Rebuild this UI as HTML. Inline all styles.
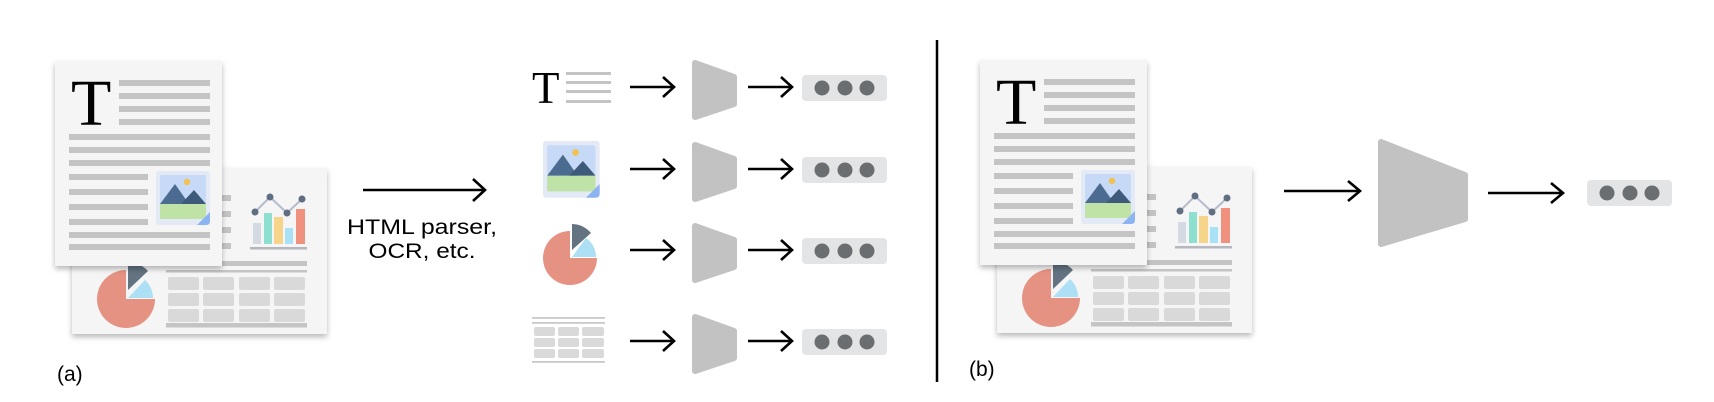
<!DOCTYPE html>
<html><head><meta charset="utf-8"><style>
html,body{margin:0;padding:0;background:#fff;}
svg{display:block;}
text{font-family:"Liberation Sans",sans-serif;}
</style></head><body>
<svg width="1714" height="402" viewBox="0 0 1714 402" xmlns="http://www.w3.org/2000/svg">
<defs>
<filter id="sh" x="-20%" y="-20%" width="140%" height="140%">
<feDropShadow dx="0" dy="3" stdDeviation="3" flood-color="#000" flood-opacity="0.28"/>
</filter>
<g id="img">
<rect x="0" y="0" width="54" height="54" rx="3" fill="#e4e9f6"/>
<rect x="4" y="4" width="46" height="44" rx="2" fill="#c6d9f6"/>
<rect x="4" y="33" width="46" height="15" fill="#bfe3a6"/>
<polygon points="4,33 19,13 33,33" fill="#4b6c90"/>
<polygon points="25,33 38,19 50,33" fill="#3e5a7b"/>
<circle cx="31" cy="11" r="3.2" fill="#f3c150"/>
<path d="M41,54 L54,41 L54,50 Q54,54 50,54 Z" fill="#8db4f2"/>
</g>
<g id="arr"><line x1="0" y1="0" x2="43" y2="0" stroke="#000" stroke-width="2.6"/><polyline points="33,-10 44,0 33,10" fill="none" stroke="#000" stroke-width="2.6"/></g>
<g id="trap"><polygon points="3,3 42,17 42,44 3,57" fill="#c2c2c2" stroke="#c2c2c2" stroke-width="6" stroke-linejoin="round"/></g>
<g id="pill"><rect x="0" y="0" width="85" height="26" rx="4" fill="#e3e4e6"/><circle cx="20" cy="13" r="7.5" fill="#6b6e70"/><circle cx="43" cy="13" r="7.5" fill="#6b6e70"/><circle cx="65" cy="13" r="7.5" fill="#6b6e70"/></g>
</defs>

<!-- DOCS (a) and (b) -->
<g id="docs">
<!-- back doc -->
<rect x="72" y="168" width="255" height="166" fill="#f5f5f5" filter="url(#sh)"/>
<g fill="#c4c4c4">
<rect x="150" y="195" width="81" height="6"/><rect x="150" y="211" width="81" height="6"/><rect x="150" y="227" width="81" height="6"/><rect x="150" y="243" width="81" height="6"/>
</g>
<polyline points="255,212 270,197 287,213 302,199" fill="none" stroke="#b4bccb" stroke-width="2"/>
<rect x="253" y="223" width="8" height="21" fill="#d5dae2"/>
<rect x="264" y="213" width="8" height="31" fill="#8ddfcf"/>
<rect x="274" y="217" width="9" height="27" fill="#f6d58a"/>
<rect x="285" y="228" width="8" height="16" fill="#a9e1f7"/>
<rect x="296" y="209" width="9" height="35" fill="#ef917e"/>
<circle cx="255" cy="212" r="3.5" fill="#5f6e80"/><circle cx="270" cy="197" r="3.5" fill="#5f6e80"/><circle cx="287" cy="213" r="3.5" fill="#5f6e80"/><circle cx="302" cy="199" r="3.5" fill="#5f6e80"/>
<rect x="250" y="247" width="57" height="2.5" fill="#b4b8be"/>
<rect x="166" y="261" width="141" height="5" fill="#c4c4c4"/>
<rect x="166" y="270" width="141" height="2.5" fill="#c4c4c4"/>
<g fill="#d9d9d9">
<rect x="168" y="277" width="31" height="13" rx="2"/><rect x="203" y="277" width="31" height="13" rx="2"/><rect x="239" y="277" width="31" height="13" rx="2"/><rect x="274" y="277" width="31" height="13" rx="2"/>
<rect x="168" y="293" width="31" height="13" rx="2"/><rect x="203" y="293" width="31" height="13" rx="2"/><rect x="239" y="293" width="31" height="13" rx="2"/><rect x="274" y="293" width="31" height="13" rx="2"/>
<rect x="168" y="309" width="31" height="13" rx="2"/><rect x="203" y="309" width="31" height="13" rx="2"/><rect x="239" y="309" width="31" height="13" rx="2"/><rect x="274" y="309" width="31" height="13" rx="2"/>
</g>
<rect x="166" y="323" width="141" height="4.5" fill="#c4c4c4"/>
<path d="M126,299 L126,270 A29,29 0 1 0 155,299 Z" fill="#e59282"/>
<path d="M128,298 L145,280 A25,25 0 0 1 153,298 Z" fill="#ade0f5"/>
<path d="M128,290 L128,262 A29,29 0 0 1 148,271 Z" fill="#637381"/>
<!-- front doc -->
<rect x="55" y="61" width="167" height="205" fill="#f5f5f5" filter="url(#sh)"/>
<text x="71" y="125" font-family="Liberation Serif, serif" font-size="66" fill="#000" style="font-family:'Liberation Serif',serif">T</text>
<g fill="#c4c4c4">
<rect x="119" y="80" width="91" height="6"/><rect x="119" y="93" width="91" height="6"/><rect x="119" y="106" width="91" height="6"/><rect x="119" y="119" width="91" height="6"/>
<rect x="69" y="134" width="141" height="6"/><rect x="69" y="147" width="141" height="6"/><rect x="69" y="160" width="141" height="6"/>
<rect x="69" y="174" width="79" height="6"/><rect x="69" y="189" width="79" height="6"/><rect x="69" y="204" width="79" height="6"/><rect x="69" y="219" width="79" height="6"/>
<rect x="69" y="232" width="141" height="6"/><rect x="69" y="244" width="141" height="6"/>
</g>
<use href="#img" x="156" y="171"/>
</g>
<use href="#docs" transform="translate(925,-1)"/>

<!-- (a) middle -->
<line x1="363" y1="190" x2="484" y2="190" stroke="#000" stroke-width="2.6"/>
<polyline points="473,179 485,190 473,201" fill="none" stroke="#000" stroke-width="2.6"/>
<text x="422" y="234" font-size="21" text-anchor="middle" textLength="150" lengthAdjust="spacingAndGlyphs">HTML parser,</text>
<text x="422" y="258" font-size="21" text-anchor="middle" textLength="107" lengthAdjust="spacingAndGlyphs">OCR, etc.</text>
<text x="57" y="381" font-size="21">(a)</text>
<text x="969" y="376" font-size="21">(b)</text>

<!-- rows -->
<text x="532" y="103" font-size="45" style="font-family:'Liberation Serif',serif">T</text>
<g fill="#c4c4c4"><rect x="566" y="72" width="45" height="3"/><rect x="566" y="81" width="45" height="3"/><rect x="566" y="90" width="45" height="3"/><rect x="566" y="100" width="45" height="3"/></g>
<use href="#img" transform="translate(543,141) scale(1.05)"/>
<path d="M570,258 L570,231 A27,27 0 1 0 597,258 Z" fill="#e59282"/>
<path d="M572,257 L586,238 A23,23 0 0 1 596,257 Z" fill="#ade0f5"/>
<path d="M572,250 L572,224 A26,26 0 0 1 591,233 Z" fill="#637381"/>
<g fill="#c9c9c9"><rect x="532" y="317" width="73" height="1.8"/><rect x="532" y="322" width="73" height="1.8"/><rect x="532" y="361" width="73" height="1.8"/></g>
<g fill="#d9d9d9">
<rect x="534" y="327" width="21" height="9" rx="2"/><rect x="558" y="327" width="21" height="9" rx="2"/><rect x="582" y="327" width="22" height="9" rx="2"/>
<rect x="534" y="338" width="21" height="9" rx="2"/><rect x="558" y="338" width="21" height="9" rx="2"/><rect x="582" y="338" width="22" height="9" rx="2"/>
<rect x="534" y="349" width="21" height="9" rx="2"/><rect x="558" y="349" width="21" height="9" rx="2"/><rect x="582" y="349" width="22" height="9" rx="2"/>
</g>
<g id="row">
<use href="#arr" x="630" y="87"/>
<use href="#trap" x="692" y="60"/>
<use href="#arr" x="748" y="87"/>
<use href="#pill" x="802" y="75"/>
</g>
<use href="#row" y="82"/>
<use href="#row" y="163"/>
<use href="#row" y="254"/>

<!-- divider -->
<line x1="937" y1="40" x2="937" y2="382" stroke="#000" stroke-width="2.5"/>

<!-- (b) pipeline -->
<line x1="1284" y1="191" x2="1358" y2="191" stroke="#000" stroke-width="2.6"/>
<polyline points="1348,181 1360,191 1348,201" fill="none" stroke="#000" stroke-width="2.6"/>
<polygon points="1381,142 1465,175 1465,219 1381,244" fill="#c2c2c2" stroke="#c2c2c2" stroke-width="6" stroke-linejoin="round"/>
<line x1="1488" y1="193" x2="1561" y2="193" stroke="#000" stroke-width="2.6"/>
<polyline points="1551,183 1563,193 1551,203" fill="none" stroke="#000" stroke-width="2.6"/>
<use href="#pill" x="1587" y="180"/>
</svg>
</body></html>
